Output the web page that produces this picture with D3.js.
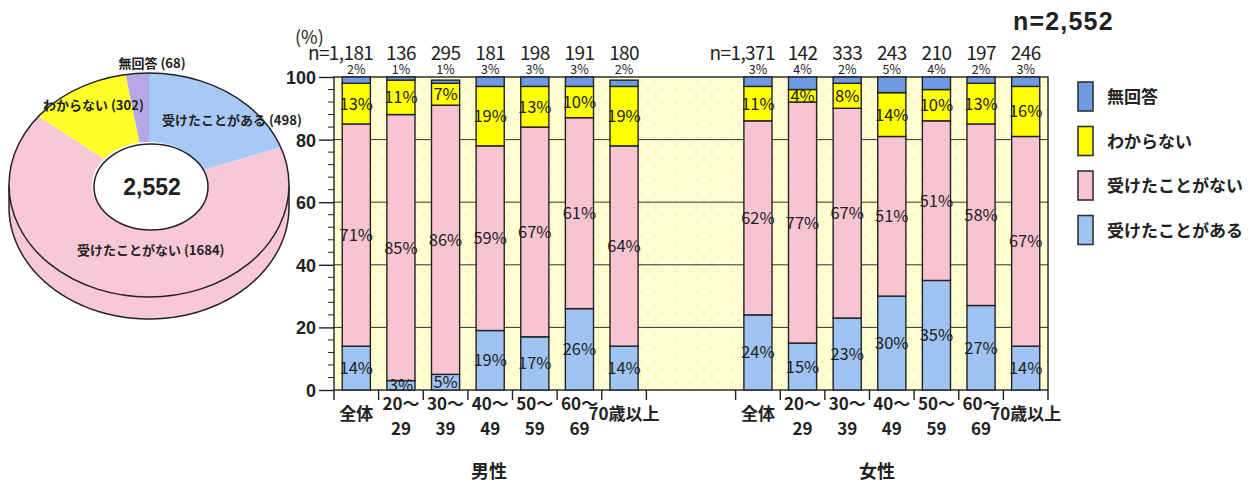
<!DOCTYPE html>
<html>
<head>
<meta charset="utf-8">
<script src="https://cdn.jsdelivr.net/npm/d3@7"></script>
<style>
  body { margin: 0; background: #fff; }
  svg { display: block; }
  .jp { font-family: "Noto Sans CJK JP", sans-serif; font-weight: 700; fill: #222; }
  .num { font-family: "Liberation Sans", Arial, sans-serif; font-weight: 700; fill: #222; }
  .pct { font-family: "Noto Sans CJK JP", sans-serif; font-weight: 400; fill: #222; }
</style>
</head>
<body>
<div id="chart"></div>
<script>
const seriesKeys = ["受けたことがある", "受けたことがない", "わからない", "無回答"];
const legendOrder = ["無回答", "わからない", "受けたことがない", "受けたことがある"];

const pieCounts = [498, 1684, 302, 68];
const pieTotal = "2,552";

const xLabels = [["全体"], ["20～", "29"], ["30～", "39"], ["40～", "49"], ["50～", "59"], ["60～", "69"], ["70歳以上"]];

const maleN = [1181, 136, 295, 181, 198, 191, 180];
const maleYes = [14, 3, 5, 19, 17, 26, 14];
const maleNo = [71, 85, 86, 59, 67, 61, 64];
const maleDk = [13, 11, 7, 19, 13, 10, 19];
const maleNa = [2, 1, 1, 3, 3, 3, 2];

const femaleN = [1371, 142, 333, 243, 210, 197, 246];
const femaleYes = [24, 15, 23, 30, 35, 27, 14];
const femaleNo = [62, 77, 67, 51, 51, 58, 67];
const femaleDk = [11, 4, 8, 14, 10, 13, 16];
const femaleNa = [3, 4, 2, 5, 4, 2, 3];

const yTicks = [0, 20, 40, 60, 80, 100];

const barColor = {
  "受けたことがある": "#9fc3f2",
  "受けたことがない": "#f8c4d2",
  "わからない": "#ffff00",
  "無回答": "#6f9ae4"
};
const pieColor = ["#a6c9f5", "#f9c8d6", "#ffff2a", "#b6a8e8"];

const width = 1256, height = 485;
const svg = d3.select("#chart").append("svg")
  .attr("width", width).attr("height", height);

// rows for stacking
function makeRows(g, n, yes, no, dk, na) {
  return n.map((v, i) => ({
    key: g + i, group: g, idx: i, n: v,
    "受けたことがある": yes[i], "受けたことがない": no[i], "わからない": dk[i], "無回答": na[i]
  }));
}
const rows = makeRows("m", maleN, maleYes, maleNo, maleDk, maleNa)
  .concat(makeRows("f", femaleN, femaleYes, femaleNo, femaleDk, femaleNa));

const slots = [...d3.range(7).map(i => "m" + i), "g0", "g1", ...d3.range(7).map(i => "f" + i)];

const x = d3.scaleBand().domain(slots).range([334, 1048]).paddingInner(0.37).paddingOuter(0.185);
const y = d3.scaleLinear().domain([0, 100]).range([390, 77]);

// plot background, dotted like the print
const defs = svg.append("defs");
const pat = defs.append("pattern").attr("id", "dots")
  .attr("width", 14).attr("height", 14).attr("patternUnits", "userSpaceOnUse");
pat.append("rect").attr("width", 14).attr("height", 14).attr("fill", "#fffdd2");
pat.append("circle").attr("cx", 4).attr("cy", 5).attr("r", 1).attr("fill", "#f7f0a0");
pat.append("circle").attr("cx", 11).attr("cy", 12).attr("r", 1).attr("fill", "#f7f0a0");

svg.append("rect")
  .attr("x", 334).attr("y", y(100))
  .attr("width", 1048 - 334).attr("height", y(0) - y(100))
  .attr("fill", "url(#dots)");

svg.append("g").selectAll("line")
  .data([20, 40, 60, 80])
  .join("line")
  .attr("x1", 334).attr("x2", 1048)
  .attr("y1", d => y(d)).attr("y2", d => y(d))
  .attr("stroke", "#333").attr("stroke-width", 1);

svg.append("rect")
  .attr("x", 334).attr("y", y(100))
  .attr("width", 1048 - 334).attr("height", y(0) - y(100))
  .attr("fill", "none").attr("stroke", "#222").attr("stroke-width", 1.4);

// bars
const stack = d3.stack().keys(seriesKeys);
const stacked = stack(rows);

const bars = svg.append("g");
stacked.forEach(layer => {
  bars.selectAll(null)
    .data(layer)
    .join("rect")
    .attr("x", d => x(d.data.key))
    .attr("width", x.bandwidth())
    .attr("y", d => y(d[1]))
    .attr("height", d => y(d[0]) - y(d[1]))
    .attr("fill", barColor[layer.key])
    .attr("stroke", "#222")
    .attr("stroke-width", 1.4);
});

// percentage labels
const labels = svg.append("g");
stacked.forEach(layer => {
  const top = layer.key === "無回答";
  labels.selectAll(null)
    .data(layer)
    .join("text")
    .attr("class", "pct")
    .attr("x", d => x(d.data.key) + x.bandwidth() / 2)
    .attr("y", d => top ? y(100) - 3.5 : (y(d[0]) + y(d[1])) / 2 + 6)
    .attr("text-anchor", "middle")
    .attr("font-size", top ? 12.5 : 16.5)
    .text(d => d.data[layer.key] + "%");
});

// n labels
svg.append("g").selectAll("text")
  .data(rows)
  .join("text")
  .attr("class", "pct")
  .attr("font-size", 19)
  .attr("letter-spacing", -0.6)
  .attr("x", d => d.idx === 0 ? x(d.key) + x.bandwidth() / 2 + 17 : x(d.key) + x.bandwidth() / 2)
  .attr("y", 60)
  .attr("text-anchor", d => d.idx === 0 ? "end" : "middle")
  .text(d => (d.idx === 0 ? "n=" : "") + d3.format(",")(d.n));

svg.append("text")
  .attr("class", "pct")
  .attr("x", 295).attr("y", 44)
  .attr("font-size", 18)
  .text("(%)");

// y axis
const yAxis = svg.append("g")
  .attr("transform", "translate(334,0)")
  .call(d3.axisLeft(y).tickValues(yTicks).tickSize(15).tickPadding(3));
yAxis.select(".domain").remove();
yAxis.selectAll("line").attr("stroke", "#222").attr("stroke-width", 1.4);
yAxis.selectAll("text").attr("class", "num").attr("font-size", 18).attr("dy", "0.36em");

svg.append("g").selectAll("line")
  .data(d3.range(0, 101, 4).filter(v => v % 20 !== 0))
  .join("line")
  .attr("x1", 328).attr("x2", 334)
  .attr("y1", d => y(d)).attr("y2", d => y(d))
  .attr("stroke", "#222").attr("stroke-width", 1);

// x ticks and labels per group
["m", "f"].forEach(g => {
  const x0 = x(g + "0") - x.step() * x.paddingInner() / 2;
  svg.append("g").selectAll("line")
    .data(d3.range(8))
    .join("line")
    .attr("x1", i => x0 + i * x.step()).attr("x2", i => x0 + i * x.step())
    .attr("y1", y(0)).attr("y2", y(0) + 10)
    .attr("stroke", "#222").attr("stroke-width", 1.4);

  const lab = svg.append("g").selectAll("text")
    .data(xLabels)
    .join("text")
    .attr("class", "jp")
    .attr("font-size", 17)
    .attr("text-anchor", "middle")
    .attr("x", (d, i) => x(g + i) + x.bandwidth() / 2)
    .attr("y", d => d.length > 1 ? 410 : 420);
  lab.selectAll("tspan")
    .data(d => d)
    .join("tspan")
    .attr("x", function () { return d3.select(this.parentNode).attr("x"); })
    .attr("dy", (d, i) => i === 0 ? 0 : 25)
    .text(d => d);
});

svg.append("text").attr("class", "jp").attr("font-size", 18).attr("text-anchor", "middle")
  .attr("x", 489).attr("y", 478).text("男性");
svg.append("text").attr("class", "jp").attr("font-size", 18).attr("text-anchor", "middle")
  .attr("x", 877).attr("y", 478).text("女性");

// legend
const legend = svg.append("g").selectAll("g")
  .data(legendOrder)
  .join("g")
  .attr("transform", (d, i) => `translate(1078,${82 + i * 44.5})`);
legend.append("rect")
  .attr("width", 15).attr("height", 29)
  .attr("fill", d => barColor[d])
  .attr("stroke", "#333").attr("stroke-width", 1.6);
legend.append("text")
  .attr("class", "jp")
  .attr("font-size", 17)
  .attr("x", 29).attr("y", 21)
  .text(d => d);

svg.append("text")
  .attr("class", "num")
  .attr("font-size", 25)
  .attr("letter-spacing", 1.2)
  .attr("x", 1013).attr("y", 30)
  .text("n=" + pieTotal);

// 3D donut pie
const cx = 149, cy = 185, rx = 140, ry = 112, depth = 22;
const irx = 57, iry = 43;
const pie = d3.pie().sort(null).value(d => d);
const arcs = pie(pieCounts);

const pt = (a, px, py, dy = 0) => [cx + px * Math.sin(a), cy - py * Math.cos(a) + dy];
const line = d3.line();

function sidePath(a0, a1) {
  const s = Math.max(a0, Math.PI / 2), e = Math.min(a1, Math.PI * 1.5);
  if (e <= s) return null;
  const angs = d3.range(s, e, 0.02).concat([e]);
  const upper = angs.map(a => pt(a, rx, ry));
  const lower = angs.slice().reverse().map(a => pt(a, rx, ry, depth));
  return line(upper.concat(lower)) + "Z";
}
function topPath(a0, a1) {
  const angs = d3.range(a0, a1, 0.02).concat([a1]);
  const outer = angs.map(a => pt(a, rx, ry));
  const inner = angs.slice().reverse().map(a => pt(a, irx, iry));
  return line(outer.concat(inner)) + "Z";
}

const pieG = svg.append("g");
arcs.forEach((a, i) => {
  const p = sidePath(a.startAngle, a.endAngle);
  if (p) pieG.append("path").attr("d", p).attr("fill", pieColor[i]);
});
// side outline
const sideAngs = d3.range(Math.PI / 2, Math.PI * 1.5, 0.02).concat([Math.PI * 1.5]);
pieG.append("path")
  .attr("d", line(sideAngs.map(a => pt(a, rx, ry, depth))))
  .attr("fill", "none").attr("stroke", "#222").attr("stroke-width", 1.5);
[Math.PI / 2, Math.PI * 1.5].forEach(a => {
  pieG.append("line")
    .attr("x1", pt(a, rx, ry)[0]).attr("y1", pt(a, rx, ry)[1])
    .attr("x2", pt(a, rx, ry)[0]).attr("y2", pt(a, rx, ry, depth)[1])
    .attr("stroke", "#222").attr("stroke-width", 1.5);
});

arcs.forEach((a, i) => {
  pieG.append("path").attr("d", topPath(a.startAngle, a.endAngle)).attr("fill", pieColor[i]);
});
pieG.append("ellipse")
  .attr("cx", cx).attr("cy", cy).attr("rx", rx).attr("ry", ry)
  .attr("fill", "none").attr("stroke", "#222").attr("stroke-width", 1.5);
pieG.append("ellipse")
  .attr("cx", cx + 2).attr("cy", cy + 2).attr("rx", irx).attr("ry", iry)
  .attr("fill", "#fff").attr("stroke", "#222").attr("stroke-width", 1.5);

pieG.append("text").attr("class", "num").attr("font-size", 23)
  .attr("text-anchor", "middle").attr("x", cx + 3).attr("y", 195).text(pieTotal);

const pieLabels = [
  { t: "受けたことがある (498)", x: 162, y: 125, anchor: "start" },
  { t: "受けたことがない (1684)", x: 77, y: 255, anchor: "start" },
  { t: "わからない (302)", x: 43, y: 110, anchor: "start" },
  { t: "無回答 (68)", x: 152, y: 68, anchor: "middle" }
];
pieG.selectAll("text.pl")
  .data(pieLabels)
  .join("text")
  .attr("class", "jp pl")
  .attr("font-size", 13)
  .attr("x", d => d.x).attr("y", d => d.y)
  .attr("text-anchor", d => d.anchor)
  .text(d => d.t);
</script>
</body>
</html>
